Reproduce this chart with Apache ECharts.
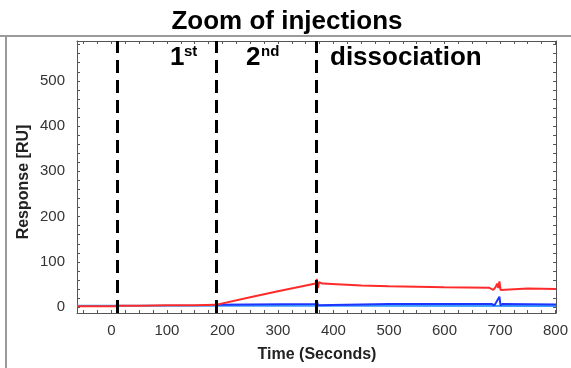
<!DOCTYPE html>
<html>
<head>
<meta charset="utf-8">
<script src="https://cdn.jsdelivr.net/npm/echarts@6/dist/echarts.min.js"></script>
<style>
  html, body { margin: 0; padding: 0; background: #fff; }
  #chart { width: 571px; height: 368px; }
</style>
</head>
<body>
<div id="chart"></div>
<script>
// time (s) / response (RU)
const redTime = [-62, 0, 9, 10, 12, 50, 100, 150, 188, 250, 300, 368, 370, 372, 374, 380, 450, 500, 600, 680, 688, 692, 695, 697, 699, 701, 703, 750, 801];
const redResp = [2, 2, 2, 8, 3, 3, 4, 4, 5, 22, 35, 52, 62, 42, 55, 52, 48, 46, 44, 43, 38, 44, 52, 42, 57, 38, 41, 41, 40];

const blueTime = [188, 368, 370, 372, 375, 500, 600, 685, 690, 693, 696, 699, 701, 705, 801];
const blueResp = [5, 7, 15, 4, 6, 7, 7, 7, 4, 10, 13, 23, 4, 7, 6];

const cyanTime = [-62, 100, 188, 400, 801];
const cyanResp = [3, 3, 3, 3, 2.5];

const injectionMarks = [10, 188, 369];

const xLabels = [0, 100, 200, 300, 400, 500, 600, 700, 800];
const yLabels = [0, 100, 200, 300, 400, 500];

const xTicks = [];
for (let t = -50; t <= 800; t += 25) xTicks.push(t);
const yTicks = [];
for (let v = 0; v <= 580; v += 20) yTicks.push(v);

const pair = (xs, ys) => xs.map((x, i) => [x, ys[i]]);

const AXIS_COLOR = '#555';
const FONT = 'Liberation Sans, Arial, sans-serif';

const chart = echarts.init(document.getElementById('chart'));

// every side of the box is an axis with small inside ticks
const frameAxis = (range, position, ticks, label) => ({
  type: 'value',
  min: range[0],
  max: range[1],
  position: position,
  axisLine: { show: true, onZero: false, lineStyle: { color: AXIS_COLOR, width: 1 } },
  axisTick: { show: true, inside: true, length: 3, customValues: ticks, lineStyle: { color: AXIS_COLOR } },
  axisLabel: label
    ? Object.assign({ show: true, color: '#333', fontSize: 15, fontFamily: FONT }, label)
    : { show: false },
  splitLine: { show: false },
});

const option = {
  animation: false,
  backgroundColor: '#fff',
  grid: { left: 77, right: 14, top: 41, bottom: 55 },
  xAxis: [
    frameAxis([-62, 801], 'bottom', xTicks, { customValues: xLabels, margin: 10 }),
    frameAxis([-62, 801], 'top', xTicks, null),
  ],
  yAxis: [
    frameAxis([-13, 588], 'left', yTicks, { customValues: yLabels, margin: 12 }),
    frameAxis([-13, 588], 'right', yTicks, null),
  ],
  series: [
    {
      type: 'line', data: pair(cyanTime, cyanResp), showSymbol: false,
      lineStyle: { color: '#3a9cff', width: 2 }, z: 2,
    },
    {
      type: 'line', data: pair(blueTime, blueResp), showSymbol: false,
      lineStyle: { color: '#1f35ff', width: 2 }, z: 3,
    },
    {
      type: 'line', data: pair(redTime, redResp), showSymbol: false,
      lineStyle: { color: '#ff2b2b', width: 2 }, z: 4,
      markLine: {
        silent: true,
        symbol: ['none', 'none'],
        label: { show: false },
        lineStyle: { color: '#000', width: 3, type: [13, 7] },
        data: injectionMarks.map((t) => ({ xAxis: t })),
        z: 10,
      },
    },
  ],
  graphic: [
    // outer frame of the figure
    { type: 'line', shape: { x1: 0, y1: 36, x2: 571, y2: 36 }, style: { stroke: '#9a9a9a', lineWidth: 2 } },
    { type: 'line', shape: { x1: 6, y1: 36, x2: 6, y2: 368 }, style: { stroke: '#9a9a9a', lineWidth: 2 } },
    // title
    { type: 'text', x: 287, y: 22, style: { text: 'Zoom of injections', font: 'bold 26px ' + FONT, fill: '#000', align: 'center', verticalAlign: 'middle' } },
    // phase labels
    { type: 'text', x: 170, y: 58, style: { text: '1', font: 'bold 26px ' + FONT, fill: '#000', align: 'left', verticalAlign: 'middle' } },
    { type: 'text', x: 184, y: 52, style: { text: 'st', font: 'bold 15px ' + FONT, fill: '#000', align: 'left', verticalAlign: 'middle' } },
    { type: 'text', x: 246, y: 58, style: { text: '2', font: 'bold 26px ' + FONT, fill: '#000', align: 'left', verticalAlign: 'middle' } },
    { type: 'text', x: 261, y: 52, style: { text: 'nd', font: 'bold 15px ' + FONT, fill: '#000', align: 'left', verticalAlign: 'middle' } },
    { type: 'text', x: 330, y: 58, style: { text: 'dissociation', font: 'bold 26px ' + FONT, fill: '#000', align: 'left', verticalAlign: 'middle' } },
    // axis titles
    { type: 'text', x: 24, y: 182, rotation: Math.PI / 2, style: { text: 'Response [RU]', font: 'bold 16px ' + FONT, fill: '#222', align: 'center', verticalAlign: 'middle' } },
    { type: 'text', x: 317, y: 355, style: { text: 'Time (Seconds)', font: 'bold 16px ' + FONT, fill: '#222', align: 'center', verticalAlign: 'middle' } },
  ],
};

chart.setOption(option);
</script>
</body>
</html>
